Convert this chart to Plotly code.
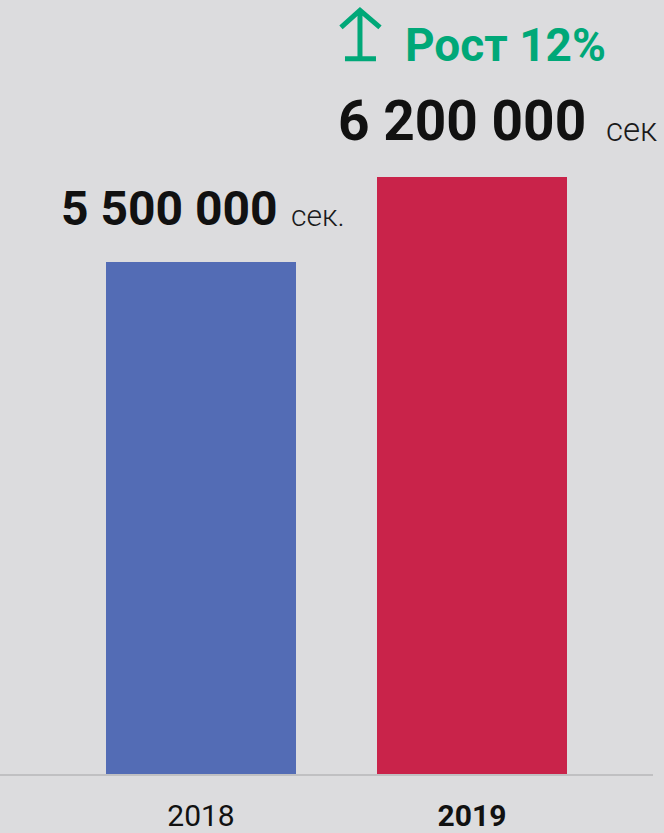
import plotly.graph_objects as go

# Data
years = ["2018", "2019"]
values = [5500000, 6200000]
value_labels = ["5 500 000", "6 200 000"]
unit_labels = ["сек.", "сек"]
tick_labels = ["2018", "<b>2019</b>"]
growth_label = "Рост 12%"

BG = "#dcdcde"
BAR_COLORS = ["#536cb5", "#c9234a"]
GREEN = "#00a878"
INK = "#111111"

fig = go.Figure()
fig.add_trace(go.Bar(
    x=years, y=values,
    marker=dict(color=BAR_COLORS, line=dict(width=0)),
    width=0.701,
    hoverinfo="skip",
))

# category index positions (category axis)
i18, i19 = 0, 1

# value labels (numbers)
fig.add_annotation(
    x=i18, y=values[0], xref="x", yref="y",
    text=value_labels[0],
    font=dict(family="Roboto", size=48, color=INK, weight=700),
    showarrow=False, xanchor="left", yanchor="bottom",
    xshift=-142, yshift=23,
)
fig.add_annotation(
    x=i19, y=values[1], xref="x", yref="y",
    text=value_labels[1],
    font=dict(family="Roboto", size=55, color=INK, weight=700),
    showarrow=False, xanchor="left", yanchor="bottom",
    xshift=-136, yshift=22,
)
# units
fig.add_annotation(
    x=i18, y=values[0], xref="x", yref="y",
    text=unit_labels[0],
    font=dict(family="Roboto", size=30, color="#1a1a1a", weight=300),
    showarrow=False, xanchor="left", yanchor="bottom",
    xshift=88, yshift=27,
)
fig.add_annotation(
    x=i19, y=values[1], xref="x", yref="y",
    text=unit_labels[1],
    font=dict(family="Roboto", size=33, color="#1a1a1a", weight=300),
    showarrow=False, xanchor="left", yanchor="bottom",
    xshift=132, yshift=26,
)
# growth label
fig.add_annotation(
    x=i19, y=values[1], xref="x", yref="y",
    text=growth_label,
    font=dict(family="Roboto", size=46, color=GREEN, weight=700),
    showarrow=False, xanchor="left", yanchor="bottom",
    xshift=-69, yshift=103,
)
# growth arrow (decoration, pixel offsets from the 2019 bar top)
fig.add_shape(
    type="path", xref="x", yref="y",
    xsizemode="pixel", ysizemode="pixel",
    xanchor=i19, yanchor=values[1],
    path="M-112,119 L-112,165 M-131,150 L-112,167 L-92,150 M-127,118.5 L-96,118.5",
    line=dict(color=GREEN, width=5),
)

fig.update_layout(
    width=664, height=833,
    margin=dict(l=0, r=11, t=0, b=56),
    paper_bgcolor=BG, plot_bgcolor=BG,
    showlegend=False,
    bargap=0,
)
fig.update_xaxes(
    type="category",
    range=[-0.7417, 1.668],
    tickvals=years, ticktext=tick_labels,
    tickfont=dict(family="Roboto", size=30, color=INK),
    showline=True, linecolor="#c0c0c2", linewidth=2,
    showgrid=False, zeroline=False,
    ticks="outside", ticklen=14, tickcolor="rgba(0,0,0,0)",
    fixedrange=True,
)
fig.update_yaxes(
    range=[1267100, 7666000],
    showticklabels=False, showline=False, ticks="",
    showgrid=False, zeroline=False,
    fixedrange=True,
)

fig.write_html(
    "out.html",
    config={"displayModeBar": False},
    post_script="document.body.style.margin='0px';document.body.style.background='%s';" % BG,
)
